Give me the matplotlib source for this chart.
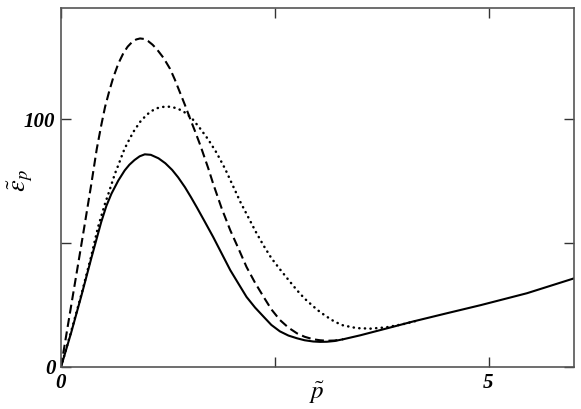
import matplotlib
matplotlib.use("Agg")
import matplotlib.pyplot as plt

# ---- data ----
solid_x = [0, 0.12, 0.24, 0.355, 0.47, 0.53, 0.59, 0.67, 0.745, 0.8, 0.86, 0.92, 0.98, 1.05, 1.14, 1.22, 1.3, 1.37, 1.45, 1.52, 1.59, 1.68, 1.78, 1.88, 1.98, 2.08, 2.17, 2.27, 2.37, 2.46, 2.56, 2.66, 2.76, 2.85, 2.95, 3.03, 3.11, 3.2, 3.3, 3.5, 3.7, 3.9, 4.12, 4.5, 4.91, 5.45, 6.0]
solid_y = [0, 14, 29, 44, 58.5, 65, 70, 75.3, 79.4, 81.7, 83.6, 85.1, 85.9, 85.7, 84.3, 82.3, 79.6, 76.6, 72.6, 68.6, 64.4, 58.8, 52.5, 45.8, 39.1, 33.4, 28.3, 24.0, 20.3, 17.0, 14.4, 12.7, 11.6, 10.8, 10.3, 10.15, 10.2, 10.5, 11.2, 12.8, 14.6, 16.4, 18.4, 21.6, 25.0, 29.8, 35.8]

dashed_x = [0, 0.043, 0.12, 0.2, 0.277, 0.355, 0.418, 0.47, 0.515, 0.565, 0.612, 0.67, 0.73, 0.78, 0.83, 0.88, 0.925, 0.97, 1.02, 1.07, 1.12, 1.2, 1.276, 1.33, 1.39, 1.45, 1.51, 1.57, 1.63, 1.72, 1.78, 1.88, 1.98, 2.08, 2.17, 2.27, 2.37, 2.46, 2.56, 2.66, 2.76, 2.85, 2.95, 3.03, 3.11, 3.2, 3.3]
dashed_y = [0, 9, 25, 41.5, 57.5, 74, 88, 97.5, 105, 111.5, 117, 122.5, 126.8, 129.4, 131.2, 132.3, 132.7, 132.5, 131.6, 130.2, 128.4, 124.8, 120.4, 116.2, 111, 105.8, 100.3, 95, 89.5, 80.5, 74.0, 64.0, 55.2, 47.5, 40.4, 34.0, 28.3, 23.3, 19.0, 15.9, 13.6, 12.2, 11.2, 10.8, 10.6, 10.7, 11.2]

dotted_x = [0, 0.12, 0.24, 0.355, 0.433, 0.515, 0.55, 0.63, 0.67, 0.73, 0.77, 0.847, 0.925, 1.0, 1.06, 1.12, 1.18, 1.24, 1.3, 1.36, 1.43, 1.53, 1.63, 1.72, 1.82, 1.92, 2.02, 2.1, 2.19, 2.28, 2.37, 2.46, 2.56, 2.66, 2.76, 2.85, 2.95, 3.03, 3.11, 3.2, 3.3, 3.46, 3.62, 3.8, 4.0, 4.2]
dotted_y = [0, 14.5, 29.5, 45, 56.5, 66, 69.5, 78, 81.5, 87, 90, 95, 99, 101.8, 103.4, 104.5, 105.0, 105.2, 105.0, 104.4, 103.3, 100.5, 96.2, 92, 86.5, 80, 72.5, 66.5, 60.5, 54.5, 49, 44, 39.5, 35.2, 31, 27.6, 24.5, 22.2, 20.3, 18.3, 16.8, 15.7, 15.5, 16.0, 17.3, 19.0]

xticks = [0, 2.5, 5]
xticklabels = ["0", "", "5"]
yticks = [0, 50, 100]
yticklabels = ["0", "", "100"]

plt.rcParams['mathtext.fontset'] = 'stix'

fig = plt.figure(figsize=(5.81, 4.09), dpi=100)
ax = fig.add_axes([61/581, 42/409, 513/581, 359/409])

lw = 1.5
ax.plot(solid_x, solid_y, color='black', lw=lw, solid_joinstyle='round')
ax.plot(dashed_x, dashed_y, color='black', lw=lw, dashes=(4.3, 2.2))
ax.plot(dotted_x, dotted_y, color='black', lw=1.8, dashes=(0.1, 2.15),
        dash_capstyle='round')

ax.set_xlim(0, 6.0)
ax.set_ylim(0, 145)

ax.set_xticks(xticks)
ax.set_xticklabels(xticklabels)
ax.set_yticks(yticks)
ax.set_yticklabels(yticklabels)
ax.tick_params(direction='in', length=7, width=1, top=True, right=True, pad=4,
               color='#333333')
for lab in ax.get_xticklabels() + ax.get_yticklabels():
    lab.set_fontfamily('Liberation Serif')
    lab.set_fontweight('bold')
    lab.set_fontstyle('italic')
    lab.set_fontsize(15)

for s in ax.spines.values():
    s.set_color('#555555')
    s.set_linewidth(1.2)

ax.set_xlabel(r'$\tilde{p}$', fontsize=18)
ax.xaxis.set_label_coords(0.5, -0.035)
ax.set_ylabel(r'$\tilde{\epsilon}_p$', fontsize=19)
ax.yaxis.set_label_coords(-0.05, 0.52)

fig.savefig('out.png', dpi=100)
